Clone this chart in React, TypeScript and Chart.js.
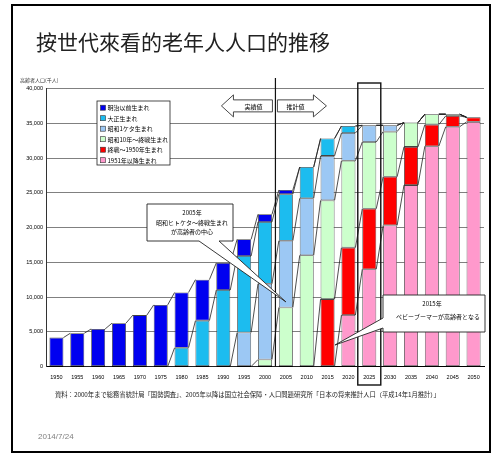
import React, { useEffect, useRef } from 'react';
import { Chart, registerables } from 'chart.js';
Chart.register(...registerables);

const years = ['1950','1955','1960','1965','1970','1975','1980','1985','1990','1995','2000','2005','2010','2015','2020','2025','2030','2035','2040','2045','2050'];

// 高齢者人口（千人） by birth cohort
const meiji   = [4155, 4786, 5398, 6236, 7393, 8865, 7950, 5900, 3900, 2400, 1100, 600, 0, 0, 0, 0, 0, 0, 0, 0, 0];
const taisho  = [0, 0, 0, 0, 0, 0, 2700, 6600, 11000, 11000, 8900, 6700, 4500, 2500, 1000, 0, 0, 0, 0, 0, 0];
const showa1  = [0, 0, 0, 0, 0, 0, 0, 0, 0, 4900, 10900, 9600, 8200, 6400, 4000, 2400, 900, 0, 0, 0, 0];
const showa10 = [0, 0, 0, 0, 0, 0, 0, 0, 0, 0, 1000, 8500, 16000, 14200, 12500, 9600, 6500, 3500, 1500, 250, 0];
const postwar = [0, 0, 0, 0, 0, 0, 0, 0, 0, 0, 0, 0, 0, 9700, 9700, 8700, 7000, 5500, 3100, 1550, 650];
const after51 = [0, 0, 0, 0, 0, 0, 0, 0, 0, 0, 0, 0, 0, 0, 7400, 14000, 20300, 26100, 31700, 34500, 35200];

const seriesLabels = ['明治以前生まれ', '大正生まれ', '昭和1ケタ生まれ', '昭和10年～終戦生まれ', '終戦～1950年生まれ', '1951年以降生まれ'];
const seriesColors = ['#0000F0', '#1CBCEF', '#9CC8F4', '#CCFFCC', '#FF0000', '#FF99CC'];
const seriesData = [meiji, taisho, showa1, showa10, postwar, after51];

const yTicksMax = 40000;
const yTicksStep = 5000;

const W = 493, H = 455;
const JP = '"Noto Sans CJK JP", "Noto Sans", sans-serif';
const TC = '"Noto Sans CJK TC", "Noto Sans CJK JP", sans-serif';
const LS = '"Liberation Sans", Arial, sans-serif';

export default function App() {
  const ref = useRef<HTMLCanvasElement>(null);
  useEffect(() => {
    const canvas = ref.current!;
    // bottom of stack = youngest cohort
    const order = [5, 4, 3, 2, 1, 0];
    const datasets = order.map((k) => ({
      label: seriesLabels[k],
      data: seriesData[k],
      backgroundColor: seriesColors[k],
      borderColor: '#444',
      borderWidth: 0.8,
      borderSkipped: false as any,
      barPercentage: 0.67,
      categoryPercentage: 1,
      stack: 's',
    }));

    const decor = {
      id: 'decor',
      beforeDraw(chart: any) {
        const ctx = chart.ctx;
        ctx.save();
        ctx.fillStyle = '#fff';
        ctx.fillRect(0, 0, W, H);
        // slide frame
        ctx.strokeStyle = '#000';
        ctx.lineWidth = 2;
        ctx.strokeRect(12, 5, 478, 447);
        // title
        ctx.fillStyle = '#222';
        ctx.font = `21px ${TC}`;
        ctx.textBaseline = 'middle';
        ctx.textAlign = 'left';
        ctx.fillText('按世代來看的老年人人口的推移', 36, 42.5);
        // y axis title
        ctx.fillStyle = '#333';
        ctx.font = `5px ${JP}`;
        ctx.fillText('高齢者人口(千人)', 20, 80);
        // footer
        ctx.fillStyle = '#222';
        ctx.font = `6.3px ${JP}`;
        ctx.fillText('資料：2000年まで総務省統計局「国勢調査」、2005年以降は国立社会保障・人口問題研究所「日本の将来推計人口（平成14年1月推計）」', 55, 395);
        // date
        ctx.fillStyle = '#808080';
        ctx.font = `8px ${LS}`;
        ctx.fillText('2014/7/24', 38, 437);
        ctx.restore();
      },
      afterDatasetsDraw(chart: any) {
        const ctx = chart.ctx;
        const xs = chart.scales.x;
        const ys = chart.scales.y;
        const area = chart.chartArea;
        ctx.save();
        // series lines
        ctx.strokeStyle = '#222';
        ctx.lineWidth = 0.8;
        chart.data.datasets.forEach((_: any, i: number) => {
          const meta = chart.getDatasetMeta(i);
          for (let j = 0; j < meta.data.length - 1; j++) {
            const a: any = meta.data[j];
            const b: any = meta.data[j + 1];
            ctx.beginPath();
            ctx.moveTo(a.x + a.width / 2, a.y);
            ctx.lineTo(b.x - b.width / 2, b.y);
            ctx.stroke();
          }
        });
        // boundary line between 実績値 / 推計値
        const bx = (xs.getPixelForValue(10) + xs.getPixelForValue(11)) / 2;
        ctx.strokeStyle = '#111';
        ctx.lineWidth = 1.2;
        ctx.beginPath();
        ctx.moveTo(bx, 78);
        ctx.lineTo(bx, area.bottom);
        ctx.stroke();
        // 2025 box
        const c25 = xs.getPixelForValue(15);
        ctx.lineWidth = 1.4;
        ctx.strokeRect(c25 - 11.5, 83, 23, 302);
        // arrows
        const ay = ys.getPixelForValue(37500);
        ctx.lineWidth = 0.9;
        ctx.strokeStyle = '#333';
        ctx.fillStyle = '#fff';
        const arrow = (tip: number, base: number, end: number) => {
          ctx.beginPath();
          ctx.moveTo(tip, ay);
          ctx.lineTo(base, ay - 11);
          ctx.lineTo(base, ay - 6);
          ctx.lineTo(end, ay - 6);
          ctx.lineTo(end, ay + 6);
          ctx.lineTo(base, ay + 6);
          ctx.lineTo(base, ay + 11);
          ctx.closePath();
          ctx.fill();
          ctx.stroke();
        };
        arrow(bx - 54, bx - 42, bx - 3);
        arrow(bx + 51, bx + 38, bx + 2);
        ctx.fillStyle = '#000';
        ctx.font = `6px ${JP}`;
        ctx.textAlign = 'center';
        ctx.textBaseline = 'middle';
        ctx.fillText('実績値', bx - 22, ay + 0.5);
        ctx.fillText('推計値', bx + 20, ay + 0.5);

        // legend
        const lx = 97, ly = 101, lw = 73, lh = 64;
        ctx.fillStyle = '#fff';
        ctx.fillRect(lx, ly, lw, lh);
        ctx.strokeStyle = '#222';
        ctx.lineWidth = 0.8;
        ctx.strokeRect(lx, ly, lw, lh);
        ctx.textAlign = 'left';
        ctx.font = `6px ${JP}`;
        seriesLabels.forEach((lab, k) => {
          const yy = ly + 6.7 + 10.5 * k;
          ctx.fillStyle = seriesColors[k];
          ctx.fillRect(100.5, yy - 2.5, 5, 5);
          ctx.strokeStyle = '#333';
          ctx.lineWidth = 0.6;
          ctx.strokeRect(100.5, yy - 2.5, 5, 5);
          ctx.fillStyle = '#000';
          ctx.fillText(lab, 107.5, yy + 0.3);
        });

        // callout 1
        const t1x = xs.getPixelForValue(11);
        const t1y = ys.getPixelForValue(9300);
        {
          const L = 147, T = 204, R = 233, B = 241;
          ctx.beginPath();
          ctx.moveTo(L, T);
          ctx.lineTo(R, T);
          ctx.lineTo(R, B);
          ctx.lineTo(219, B);
          ctx.lineTo(t1x, t1y);
          ctx.lineTo(199, B);
          ctx.lineTo(L, B);
          ctx.closePath();
          ctx.fillStyle = '#fff';
          ctx.fill();
          ctx.strokeStyle = '#222';
          ctx.lineWidth = 0.9;
          ctx.stroke();
          ctx.fillStyle = '#000';
          ctx.textAlign = 'center';
          ctx.font = `6px ${JP}`;
          ctx.fillText('2005年', 192, 213);
          ctx.fillText('昭和ヒトケタ～終戦生まれ', 192, 222.5);
          ctx.fillText('が高齢者の中心', 192, 232);
        }
        // callout 2
        const t2x = xs.getPixelForValue(13) + 7.5;
        const t2y = ys.getPixelForValue(3100);
        {
          const L = 383, T = 295, R = 485, B = 332;
          ctx.beginPath();
          ctx.moveTo(L, T);
          ctx.lineTo(R, T);
          ctx.lineTo(R, B);
          ctx.lineTo(L, B);
          ctx.lineTo(L, 328);
          ctx.lineTo(t2x, t2y);
          ctx.lineTo(L, 318);
          ctx.closePath();
          ctx.fillStyle = '#fff';
          ctx.fill();
          ctx.strokeStyle = '#222';
          ctx.lineWidth = 0.9;
          ctx.stroke();
          ctx.fillStyle = '#000';
          ctx.textAlign = 'center';
          ctx.font = `6px ${JP}`;
          ctx.fillText('2015年', 432, 304);
          ctx.fillText('ベビーブーマーが高齢者となる', 438, 317);
        }
        ctx.restore();
      },
    };

    const chart = new Chart(canvas, {
      type: 'bar',
      data: { labels: years, datasets: datasets as any },
      options: {
        responsive: false,
        animation: false,
        devicePixelRatio: 1,
        layout: { padding: { left: 16, right: 9, top: 88.5, bottom: 73.5 } },
        plugins: { legend: { display: false }, tooltip: { enabled: false }, title: { display: false } },
        scales: {
          x: {
            stacked: true,
            grid: { display: false, drawTicks: false },
            border: { display: true, color: '#000', width: 1 },
            ticks: { font: { size: 5.5, family: LS }, color: '#000', padding: 8, maxRotation: 0, autoSkip: false },
            afterFit: (s: any) => { s.height = 15; },
          },
          y: {
            stacked: true,
            min: 0,
            max: yTicksMax,
            ticks: {
              stepSize: yTicksStep,
              callback: (v: any) => Number(v).toLocaleString('en-US'),
              font: { size: 5.5, family: LS },
              color: '#000',
              padding: 3,
            },
            grid: { color: '#808080', lineWidth: 1, drawTicks: false },
            border: { display: true, color: '#333', width: 1 },
            afterFit: (s: any) => { s.width = 30; },
          },
        },
      } as any,
      plugins: [decor],
    });
    return () => chart.destroy();
  }, []);
  return (
    <div style={{ position: 'absolute', left: 0, top: 0, width: W, height: H, background: '#fff' }}>
      <canvas ref={ref} width={W} height={H} style={{ display: 'block' }} />
    </div>
  );
}
